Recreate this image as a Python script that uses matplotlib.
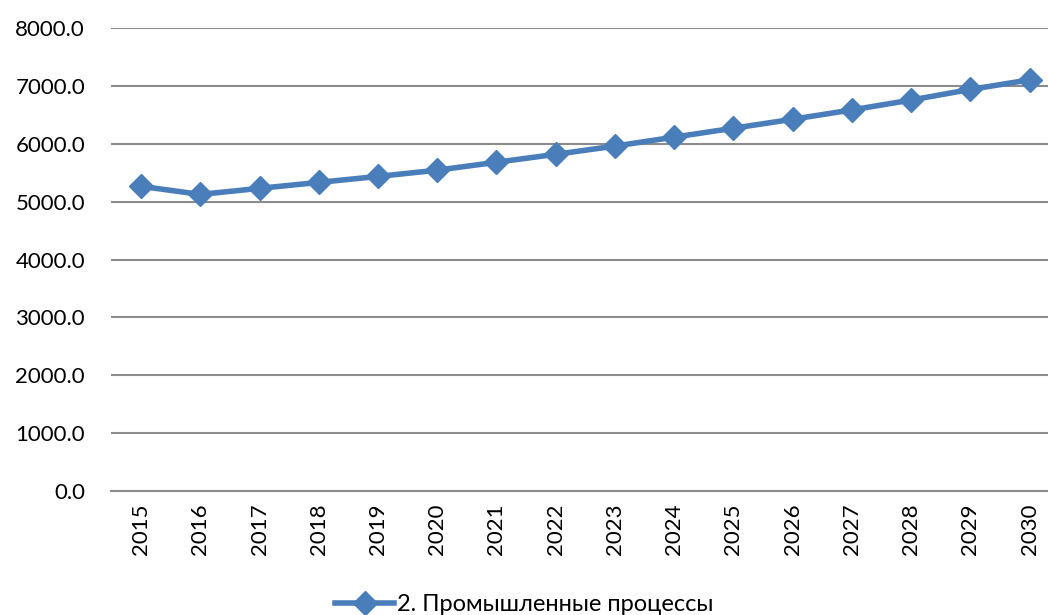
import matplotlib
matplotlib.use('Agg')
import matplotlib.pyplot as plt

plt.rcParams['font.family'] = ['Lato', 'DejaVu Sans']

# Data
years = [str(y) for y in range(2015, 2031)]
values = [5265, 5125, 5230, 5333, 5436, 5544, 5681, 5818,
          5960, 6115, 6269, 6424, 6585, 6756, 6939, 7105]
series_name = '2. Промышленные процессы'
yticks = [0, 1000, 2000, 3000, 4000, 5000, 6000, 7000, 8000]

line_color = '#4A7EBB'
grid_color = '#8C8C8C'

fig = plt.figure(figsize=(10.48, 6.15), dpi=100)
ax = fig.add_axes([0.1063, 0.2016, 0.8937, 0.7528])

x = list(range(len(years)))
ax.plot(x, values, color=line_color, lw=4, marker='D', ms=12,
        markeredgecolor=line_color, label=series_name, zorder=3)

ax.set_ylim(0, 8000)
ax.set_xlim(-0.5, len(years) - 0.69)
ax.set_yticks(yticks)
ax.set_yticklabels([f'{v:.1f}' for v in yticks], fontsize=16)
ax.set_xticks(x)
ax.set_xticklabels(years, rotation=90, fontsize=16)
ax.tick_params(axis='y', length=0, pad=19)
ax.tick_params(axis='x', length=0, pad=9)

ax.yaxis.grid(True, color=grid_color, lw=1.5)
ax.set_axisbelow(True)
for s in ['top', 'right', 'left']:
    ax.spines[s].set_visible(False)
ax.spines['bottom'].set_color(grid_color)
ax.spines['bottom'].set_linewidth(1.5)

fig.legend(loc='lower center', bbox_to_anchor=(0.5, -0.035), frameon=False,
           fontsize=17, handlelength=2.5, handletextpad=0.1)

fig.savefig('out.png', dpi=100)
